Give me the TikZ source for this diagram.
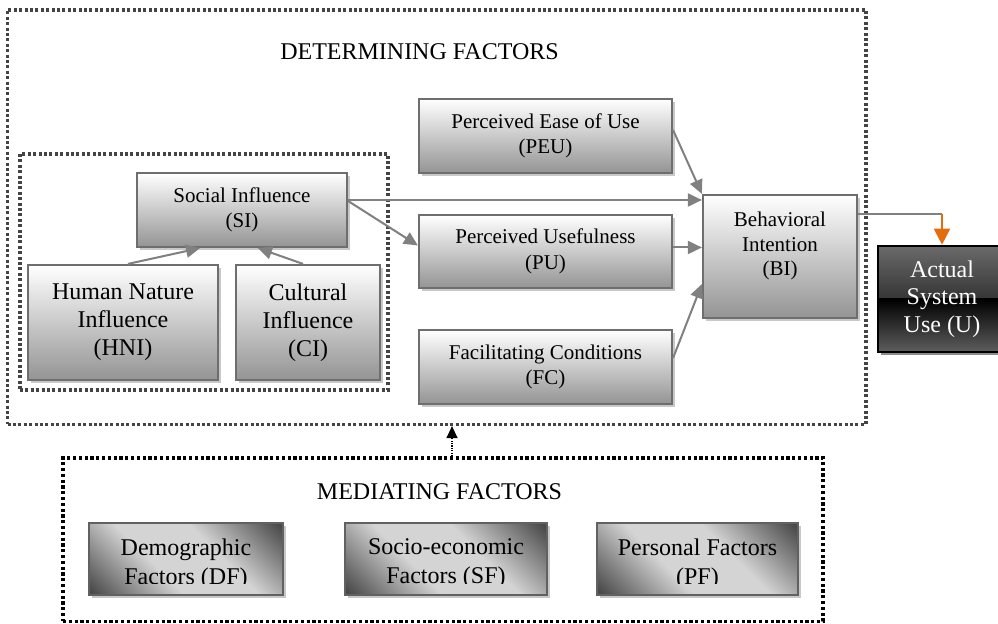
\documentclass[tikz,border=0pt]{standalone}
\usepackage{fontspec}
\setmainfont{Liberation Serif}
\usetikzlibrary{arrows.meta,calc,shadows}

\definecolor{bordergray}{HTML}{6E6E6E}
\definecolor{linegray}{HTML}{808080}
\definecolor{shadowgray}{HTML}{C8C8C8}
\definecolor{dotgray}{HTML}{444444}
\definecolor{arroworange}{HTML}{E46C0A}
\definecolor{mdark}{HTML}{4A4A4A}
\definecolor{mlight}{HTML}{D4D4D4}
\definecolor{utop}{HTML}{6A6A6A}
\definecolor{ubot}{HTML}{5E5E5E}

\pgfdeclarehorizontalshading{medshade}{100bp}{color(0bp)=(mdark); color(16bp)=(mdark); color(40bp)=(mlight); color(60bp)=(mlight); color(84bp)=(mdark); color(100bp)=(mdark)}

\tikzset{
  gbox/.style={draw=bordergray, line width=1.1pt, top color=white, bottom color=black!42,
    drop shadow={shadow xshift=1.5pt, shadow yshift=-1.5pt, fill=shadowgray, opacity=1},
    inner sep=0pt, align=center, font=\fontsize{10.5}{12.75}\selectfont},
  bigtxt/.style={font=\fontsize{12}{14}\selectfont},
  ubox/.style={draw=black, line width=1.3pt, fill=black,
    path picture={
      \shade[top color=utop, bottom color=black]
        (path picture bounding box.north west) rectangle (path picture bounding box.east);
      \shade[top color=black, bottom color=ubot]
        (path picture bounding box.west) rectangle (path picture bounding box.south east);
    },
    drop shadow={shadow xshift=1.5pt, shadow yshift=-1.5pt, fill=black!45, opacity=1},
    inner sep=0pt, align=center, text=white, font=\fontsize{12}{13.75}\selectfont},
  medbox/.style={draw=black!62, line width=1.1pt, shading=medshade, shading angle=45,
    drop shadow={shadow xshift=1.5pt, shadow yshift=-1.5pt, fill=shadowgray, opacity=1},
    inner sep=0pt, minimum height=36pt},
  medtxt/.style={align=center, inner sep=0pt, font=\fontsize{12}{14.5}\selectfont},
  dotbox/.style={draw=dotgray, line width=1.6pt, dash pattern=on 1.5pt off 1.2pt, inner sep=0pt},
  meddot/.style={draw=black, line width=1.8pt, dash pattern=on 1.6pt off 1.3pt, inner sep=0pt},
  conn/.style={draw=linegray, line width=1pt, -{Triangle[length=7pt,width=6.5pt]}},
  lineg/.style={draw=linegray, line width=0.75pt},
  orarrow/.style={draw=arroworange, line width=1pt, -{Triangle[length=8pt,width=8pt]}},
  dotarrow/.style={draw=black, line width=0.6pt, dash pattern=on 0.6pt off 0.6pt, -{Triangle[length=6pt,width=5.5pt]}},
  title/.style={font=\fontsize{12}{14}\selectfont, inner sep=0pt, anchor=base}
}

\begin{document}
\begin{tikzpicture}[x=0.5pt,y=-0.5pt]
\useasboundingbox (0,0) rectangle (998,624);
\fill[white] (0,0) rectangle (998,624);

% dotted group boxes
\node[dotbox, minimum width=429.25pt, minimum height=207.25pt] (det) at (436.75,217.25) {};
\node[dotbox, minimum width=184pt, minimum height=118pt] (sig) at (204,272) {};
\node[meddot, minimum width=380pt, minimum height=81.75pt] (med) at (443,539.75) {};

\node[title] (dettitle) at (419.5,60) {DETERMINING FACTORS};
\node[title] (medtitle) at (439.5,500) {MEDIATING FACTORS};

% upper boxes
\node[gbox, minimum width=126.5pt, minimum height=37pt] (peu) at (545.5,136) {Perceived Ease of Use\\(PEU)};
\node[gbox, minimum width=126.5pt, minimum height=36.5pt] (pu) at (545.5,251.5) {Perceived Usefulness\\(PU)};
\node[gbox, minimum width=126.5pt, minimum height=37pt] (fc) at (545.5,367) {Facilitating Conditions\\(FC)};
\node[gbox, minimum width=105pt, minimum height=37pt] (si) at (242,210) {Social Influence\\(SI)};
\node[gbox, bigtxt, minimum width=95pt, minimum height=57.5pt] (hni) at (123,322.5) {Human Nature\\Influence\\(HNI)};
\node[gbox, bigtxt, minimum width=72pt, minimum height=57.5pt] (ci) at (308,322.5) {Cultural\\Influence\\(CI)};
\node[gbox, minimum width=77pt, minimum height=61.5pt] (bi) at (780,256.5) {};
\node[align=center, inner sep=0pt, font=\fontsize{10.5}{12.4}\selectfont] (bitxt) at (780,246) {Behavioral\\Intention\\(BI)};
\node[ubox, minimum width=64pt, minimum height=53pt] (u) at (942,299) {Actual\\System\\Use (U)};

% mediating boxes
\node[medbox, minimum width=97pt] (df) at (186,559) {};
\node[medbox, minimum width=101pt] (sf) at (446,559) {};
\node[medbox, minimum width=100.5pt] (pf) at (697.5,559) {};
\begin{scope}
  \clip (63,523) rectangle (823,584);
  \node[medtxt] (dftxt) at (186,564) {Demographic\\Factors (DF)};
  \node[medtxt] (sftxt) at (446,564) {Socio-economic\\Factors (SF)};
  \node[medtxt] (pftxt) at (697.5,564) {Personal Factors\\(PF)};
\end{scope}

% connectors
\draw[conn] ($(si.east)+(0,-10)$) -- ($(si.east -| bi.west)+(0,-10)$);
\draw[conn] ($(peu.east)+(0,-6)$) -- (bi.north west);
\draw[conn] ($(si.east)+(0,-9)$) -- ($(pu.west)+(0,-6)$);
\draw[conn] ($(pu.east)+(0,-4)$) -- ($(pu.east -| bi.west)+(0,-4)$);
\draw[conn] ($(fc.east)+(0,-9)$) -- ($(bi.south west)+(0,-35)$);
\draw[conn] ($(hni.north)+(5,0)$) -- ($(si.south)+(-42,0)$);
\draw[conn] ($(ci.north)+(-5,0)$) -- ($(si.south)+(16,0)$);

\path ($(bi.north east)+(0,20)$) coordinate (biout);
\coordinate (bend) at (biout -| u.north);
\draw[lineg] (biout) -- (bend);
\draw[orarrow] (bend) -- (u.north);

\path ($(med.north)+(9,0)$) coordinate (medout);
\draw[dotarrow] (medout) -- (medout |- det.south);
\end{tikzpicture}
\end{document}
